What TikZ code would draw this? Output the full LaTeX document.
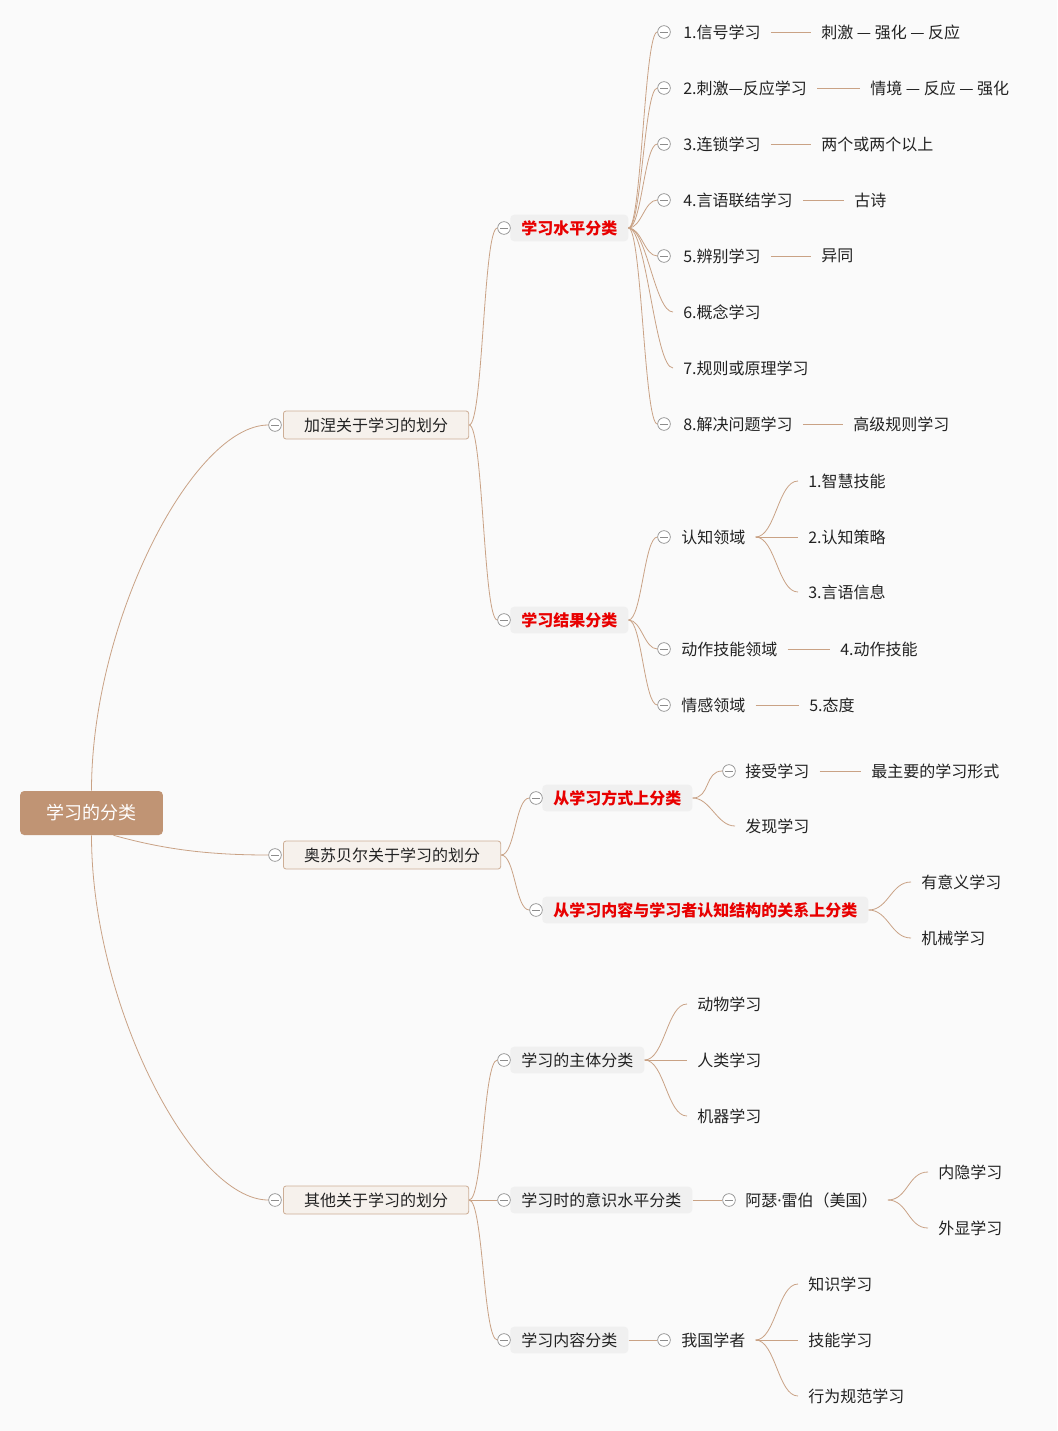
\documentclass[tikz,border=0pt]{standalone}
\usepackage{fontspec}
\setmainfont{Noto Sans CJK SC}
\newfontfamily\latinfont{Noto Sans}
\usetikzlibrary{calc}

\definecolor{pagebg}{HTML}{FAFAFA}
\definecolor{rootbrown}{HTML}{C09474}
\definecolor{boxfill}{HTML}{F6F1EC}
\definecolor{boxline}{HTML}{CDAE96}
\definecolor{topicgray}{HTML}{F0F0F0}
\definecolor{linkbrown}{HTML}{C9A285}
\definecolor{foldgray}{HTML}{8C8C8C}
\definecolor{hotred}{HTML}{E80000}
\definecolor{inktext}{HTML}{222222}

\begin{document}
\begin{tikzpicture}[x=0.75pt,y=-0.75pt,
        font=\fontsize{12}{14}\selectfont, text=inktext,
        root/.style={rectangle,rounded corners=3pt,fill=rootbrown,text=white,
            minimum width=107pt,minimum height=33pt,
            font=\fontsize{13.5}{16}\selectfont},
        major/.style={anchor=west,rectangle,rounded corners=2pt,draw=boxline,
            fill=boxfill,line width=0.6pt,inner xsep=15.5pt,inner ysep=0pt,
            minimum height=21pt},
        topic/.style={anchor=west,rectangle,rounded corners=3pt,fill=topicgray,
            inner xsep=8.25pt,inner ysep=0pt,minimum height=20pt},
        hot/.style={topic,text=hotred,font=\fontsize{12}{14}\selectfont\bfseries},
        leaf/.style={anchor=west,inner xsep=7.5pt,inner ysep=2pt},
        fold/.style={circle,draw=foldgray,fill=white,line width=0.5pt,
            minimum size=9.5pt,inner sep=0pt,
            path picture={\draw[foldgray,line width=0.5pt]
                ([xshift=1.8pt]path picture bounding box.west) --
                ([xshift=-1.8pt]path picture bounding box.east);}},
        link/.style={draw=linkbrown,line width=0.6pt}]

    \useasboundingbox (0,0) rectangle (1057,1431);
    \fill[pagebg] (0,0) rectangle (1057,1431);

    % root and first level
    \node[root] (root) at (91.5,813) {学习的分类};
    \node[major] (jiane) at (283,425) {加涅关于学习的划分};
    \node[major] (aosu) at (283,855) {奥苏贝尔关于学习的划分};
    \node[major] (qita) at (283,1200) {其他关于学习的划分};
    \node[fold] (fjiane) at (275,425) {};
    \node[fold] (faosu) at (275,855) {};
    \node[fold] (fqita) at (275,1200) {};

    % second level
    \node[hot] (shuiping) at (510,228) {学习水平分类};
    \node[hot] (jieguo) at (510,620) {学习结果分类};
    \node[hot] (fangshi) at (542,798) {从学习方式上分类};
    \node[hot] (guanxi) at (542,910) {从学习内容与学习者认知结构的关系上分类};
    \node[topic] (zhuti) at (510,1060) {学习的主体分类};
    \node[topic] (yishi) at (510,1200) {学习时的意识水平分类};
    \node[topic] (neirong) at (510,1340) {学习内容分类};
    \node[fold] (fshuiping) at (504,228) {};
    \node[fold] (fjieguo) at (504,620) {};
    \node[fold] (ffangshi) at (536,798) {};
    \node[fold] (fguanxi) at (536,910) {};
    \node[fold] (fzhuti) at (504,1060) {};
    \node[fold] (fyishi) at (504,1200) {};
    \node[fold] (fneirong) at (504,1340) {};

    % learning levels
    \node[leaf] (s1) at (673,32) {1.信号学习};
    \node[leaf] (s1r) at (811,32) {刺激 — 强化 — 反应};
    \node[leaf] (s2) at (673,88) {2.刺激—反应学习};
    \node[leaf] (s2r) at (860,88) {情境 — 反应 — 强化};
    \node[leaf] (s3) at (673,144) {3.连锁学习};
    \node[leaf] (s3r) at (811,144) {两个或两个以上};
    \node[leaf] (s4) at (673,200) {4.言语联结学习};
    \node[leaf] (s4r) at (844,200) {古诗};
    \node[leaf] (s5) at (673,256) {5.辨别学习};
    \node[leaf] (s5r) at (811,256) {异同};
    \node[leaf] (s6) at (673,312) {6.概念学习};
    \node[leaf] (s7) at (673,368) {7.规则或原理学习};
    \node[leaf] (s8) at (673,424) {8.解决问题学习};
    \node[leaf] (s8r) at (843,424) {高级规则学习};
    \node[fold] (fs1) at (664,32) {};
    \node[fold] (fs2) at (664,88) {};
    \node[fold] (fs3) at (664,144) {};
    \node[fold] (fs4) at (664,200) {};
    \node[fold] (fs5) at (664,256) {};
    \node[fold] (fs8) at (664,424) {};

    % learning outcomes
    \node[leaf] (renzhi) at (671,537) {认知领域};
    \node[leaf] (r1) at (798,481) {1.智慧技能};
    \node[leaf] (r2) at (798,537) {2.认知策略};
    \node[leaf] (r3) at (798,592) {3.言语信息};
    \node[leaf] (dongzuo) at (671,649) {动作技能领域};
    \node[leaf] (dongzuor) at (830,649) {4.动作技能};
    \node[leaf] (qinggan) at (671,705) {情感领域};
    \node[leaf] (qinggangr) at (799,705) {5.态度};
    \node[fold] (frenzhi) at (664,537) {};
    \node[fold] (fdongzuo) at (664,649) {};
    \node[fold] (fqinggan) at (664,705) {};

    % ausubel
    \node[leaf] (jieshou) at (735,771) {接受学习};
    \node[leaf] (jieshour) at (861,771) {最主要的学习形式};
    \node[leaf] (faxian) at (735,826) {发现学习};
    \node[fold] (fjieshou) at (729,771) {};
    \node[leaf] (youyiyi) at (911,882) {有意义学习};
    \node[leaf] (jixie) at (911,938) {机械学习};

    % others
    \node[leaf] (dongwu) at (687,1004) {动物学习};
    \node[leaf] (renlei) at (687,1060) {人类学习};
    \node[leaf] (jiqi) at (687,1116) {机器学习};
    \node[leaf] (leibo) at (735,1200) {阿瑟{\latinfont ·}雷伯（美国）};
    \node[fold] (fleibo) at (729,1200) {};
    \node[leaf] (neiyin) at (928,1172) {内隐学习};
    \node[leaf] (waixian) at (928,1228) {外显学习};
    \node[leaf] (woguo) at (671,1340) {我国学者};
    \node[fold] (fwoguo) at (664,1340) {};
    \node[leaf] (zhishi) at (798,1284) {知识学习};
    \node[leaf] (jineng) at (798,1340) {技能学习};
    \node[leaf] (xingwei) at (798,1396) {行为规范学习};

    % connectors
    \draw[link] (root.north) .. controls +(0,-170) and +(-75,0) .. (fjiane.west);
    \draw[link] ($(root.south)+(22,0)$) .. controls +(50,14) and +(-60,0) .. (faosu.west);
    \draw[link] (root.south) .. controls +(0,170) and +(-75,0) .. (fqita.west);

    \draw[link] (jiane.east) .. controls +(14,0) and +(-14,0) .. (fshuiping.west);
    \draw[link] (jiane.east) .. controls +(14,0) and +(-14,0) .. (fjieguo.west);
    \draw[link] (aosu.east) .. controls +(14,0) and +(-14,0) .. (ffangshi.west);
    \draw[link] (aosu.east) .. controls +(14,0) and +(-14,0) .. (fguanxi.west);
    \draw[link] (qita.east) .. controls +(14,0) and +(-14,0) .. (fzhuti.west);
    \draw[link] (qita.east) -- (fyishi.west);
    \draw[link] (qita.east) .. controls +(14,0) and +(-14,0) .. (fneirong.west);

    \draw[link] (shuiping.east) .. controls +(13,0) and +(-13,0) .. (fs1.west);
    \draw[link] (shuiping.east) .. controls +(13,0) and +(-13,0) .. (fs2.west);
    \draw[link] (shuiping.east) .. controls +(13,0) and +(-13,0) .. (fs3.west);
    \draw[link] (shuiping.east) .. controls +(13,0) and +(-13,0) .. (fs4.west);
    \draw[link] (shuiping.east) .. controls +(13,0) and +(-13,0) .. (fs5.west);
    \draw[link] (shuiping.east) .. controls +(18,0) and +(-18,0) .. (s6.west);
    \draw[link] (shuiping.east) .. controls +(18,0) and +(-18,0) .. (s7.west);
    \draw[link] (shuiping.east) .. controls +(13,0) and +(-13,0) .. (fs8.west);
    \draw[link] (s1) -- (s1r);
    \draw[link] (s2) -- (s2r);
    \draw[link] (s3) -- (s3r);
    \draw[link] (s4) -- (s4r);
    \draw[link] (s5) -- (s5r);
    \draw[link] (s8) -- (s8r);

    \draw[link] (jieguo.east) .. controls +(13,0) and +(-13,0) .. (frenzhi.west);
    \draw[link] (jieguo.east) .. controls +(13,0) and +(-13,0) .. (fdongzuo.west);
    \draw[link] (jieguo.east) .. controls +(13,0) and +(-13,0) .. (fqinggan.west);
    \draw[link] (renzhi.east) .. controls +(20,0) and +(-20,0) .. (r1.west);
    \draw[link] (renzhi.east) -- (r2.west);
    \draw[link] (renzhi.east) .. controls +(20,0) and +(-20,0) .. (r3.west);
    \draw[link] (dongzuo) -- (dongzuor);
    \draw[link] (qinggan) -- (qinggangr);

    \draw[link] (fangshi.east) .. controls +(18,0) and +(-18,0) .. (fjieshou.west);
    \draw[link] (fangshi.east) .. controls +(18,0) and +(-18,0) .. (faxian.west);
    \draw[link] (jieshou) -- (jieshour);
    \draw[link] (guanxi.east) .. controls +(20,0) and +(-20,0) .. (youyiyi.west);
    \draw[link] (guanxi.east) .. controls +(20,0) and +(-20,0) .. (jixie.west);

    \draw[link] (zhuti.east) .. controls +(20,0) and +(-20,0) .. (dongwu.west);
    \draw[link] (zhuti.east) -- (renlei.west);
    \draw[link] (zhuti.east) .. controls +(20,0) and +(-20,0) .. (jiqi.west);
    \draw[link] (yishi.east) -- (fleibo.west);
    \draw[link] (leibo.east) .. controls +(20,0) and +(-20,0) .. (neiyin.west);
    \draw[link] (leibo.east) .. controls +(20,0) and +(-20,0) .. (waixian.west);
    \draw[link] (neirong.east) -- (fwoguo.west);
    \draw[link] (woguo.east) .. controls +(20,0) and +(-20,0) .. (zhishi.west);
    \draw[link] (woguo.east) -- (jineng.west);
    \draw[link] (woguo.east) .. controls +(20,0) and +(-20,0) .. (xingwei.west);
\end{tikzpicture}
\end{document}
